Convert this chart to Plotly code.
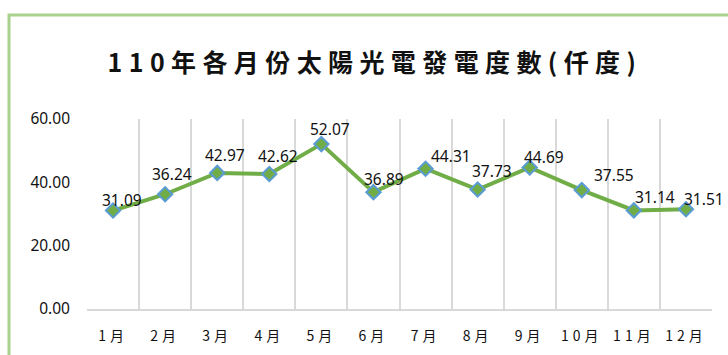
import plotly.graph_objects as go

# Monthly solar generation for ROC year 110 (thousand kWh)
months = ["1月", "2月", "3月", "4月", "5月", "6月", "7月", "8月", "9月", "10月", "11月", "12月"]
values = [31.09, 36.24, 42.97, 42.62, 52.07, 36.89, 44.31, 37.73, 44.69, 37.55, 31.14, 31.51]
y_ticks = [0, 20, 40, 60]

# per-label offsets (px) for the data labels
label_dx = [9, 7, 8, 9, 9, 11, 25, 14, 14, 32, 21, 18]
label_dy = [11, 20, 18, 18, 15, 13, 13, 19, 10, 15, 13, 10]

W, H = 728, 355
L, R, T, B = 87, 16, 119, 46
pw, ph = W - L - R, H - T - B

fig = go.Figure()
fig.add_trace(go.Scatter(
    x=months, y=values, mode="lines+markers",
    line=dict(color="#70ad47", width=4),
    marker=dict(symbol="diamond", size=11, color="#70ad47",
                line=dict(color="#5b9bd5", width=2)),
    hoverinfo="x+y", showlegend=False,
))

for m, v, dx, dy in zip(months, values, label_dx, label_dy):
    fig.add_annotation(x=m, y=v, text=f"{v:.2f}", showarrow=False,
                       xshift=dx, yshift=dy,
                       font=dict(family="Noto Sans, Noto Sans CJK TC", size=15.5, color="#111111"))

# outer chart frame
fig.add_shape(type="rect", xref="paper", yref="paper",
              x0=(9 - L) / pw, x1=(W + 20 - L) / pw,
              y0=(H - B - (H + 20)) / ph, y1=(H - B - 15) / ph,
              line=dict(color="#a9d18e", width=3), fillcolor="rgba(0,0,0,0)", layer="below")

fig.update_layout(
    width=W, height=H,
    margin=dict(l=L, r=R, t=T, b=B, pad=0),
    paper_bgcolor="white", plot_bgcolor="white",
    title=dict(text="<b>110年各月份太陽光電發電度數(仟度)</b>",
               x=375 / W, xanchor="center", xref="container",
               y=1 - 63 / H, yanchor="middle", yref="container",
               font=dict(family="Noto Sans CJK TC", size=25, color="#111111")),
    xaxis=dict(type="category", range=[-0.5, len(months) - 0.5], automargin=False,
               tickson="boundaries", showgrid=True,
               gridcolor="#d9d9d9", gridwidth=1.5, showline=True, linecolor="#d9d9d9",
               linewidth=1.5, ticks="", ticklen=0, ticklabelstandoff=13,
               tickfont=dict(family="Noto Sans CJK TC", size=14, color="#111111")),
    yaxis=dict(range=[0, 60], tickvals=y_ticks, ticktext=[f"{t:.2f}" for t in y_ticks],
               showgrid=False, zeroline=False, showline=False, ticks="", automargin=False,
               ticklabelstandoff=16,
               tickfont=dict(family="Noto Sans, Noto Sans CJK TC", size=15.5, color="#111111")),
)

# widen character spacing in the title and month labels, keeping each label centred
post = """
var gd = document.getElementById('{plot_id}');
function spread(){
  gd.querySelectorAll('.gtitle').forEach(function(t){ t.style.letterSpacing='6.4px'; });
  gd.querySelectorAll('.xtick text').forEach(function(t){
    if (t.getAttribute('data-spread')) return;
    var b0 = t.getBBox(), c0 = b0.x + b0.width / 2;
    t.style.letterSpacing = '4px';
    var b1 = t.getBBox(), c1 = b1.x + (b1.width - 4) / 2;
    t.setAttribute('dx', (c0 - c1 - 2).toFixed(1));
    t.setAttribute('data-spread', '1');
  });
}
spread();
gd.on('plotly_afterplot', spread);
"""
fig.write_html("out.html", post_script=post)
